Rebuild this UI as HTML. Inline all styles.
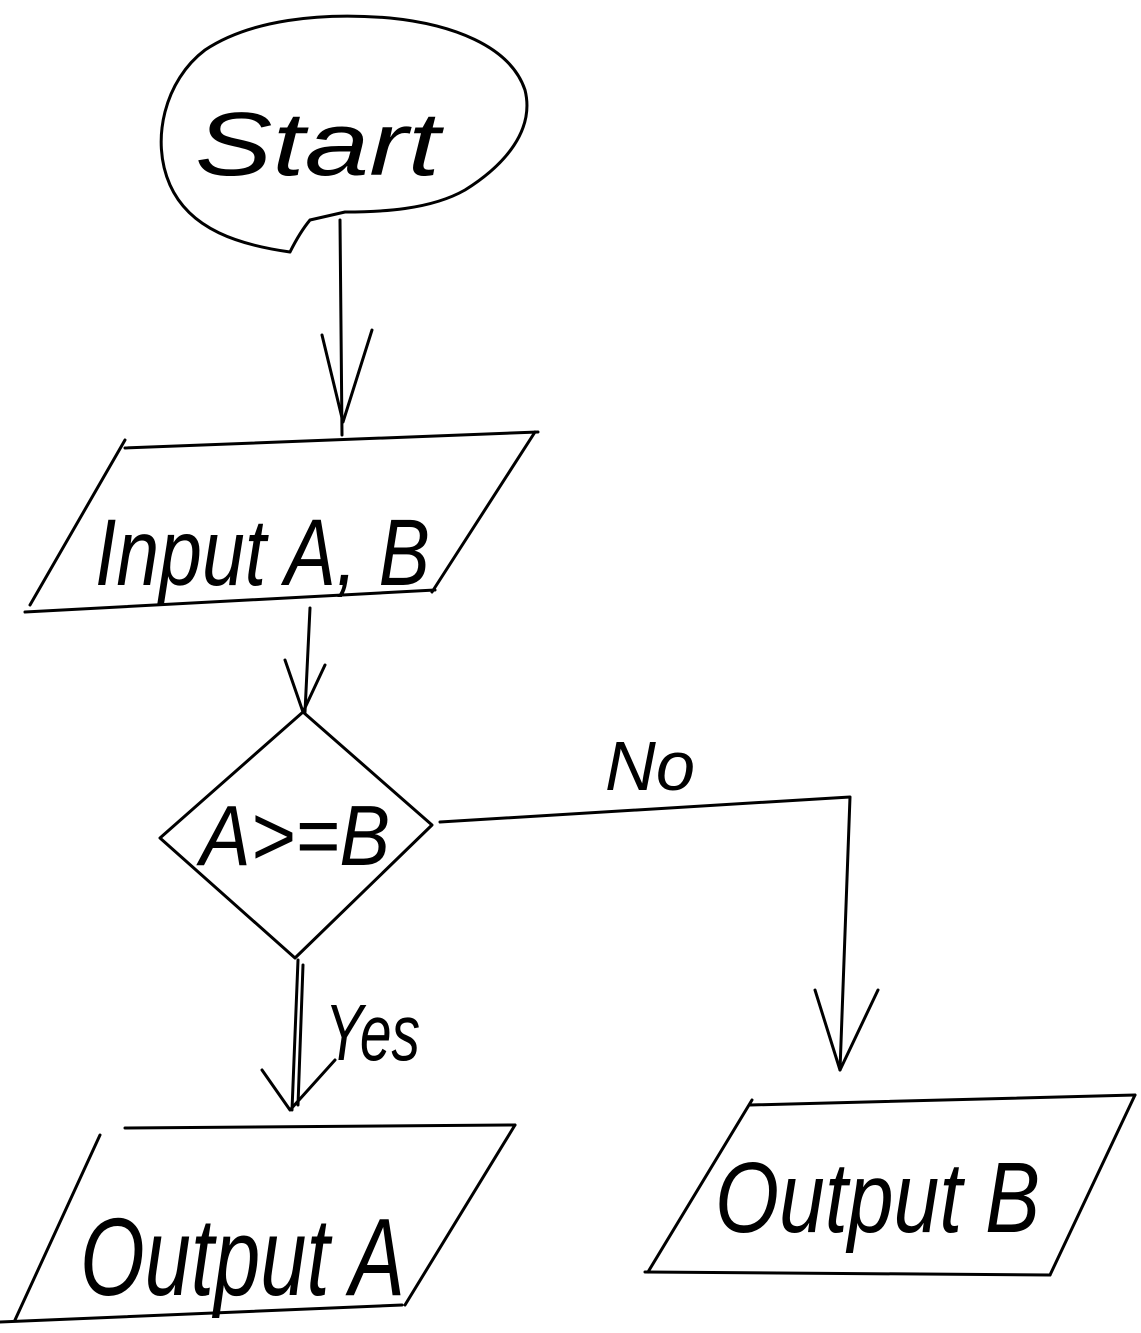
<!DOCTYPE html>
<html><head><meta charset="utf-8"><style>
html,body{margin:0;padding:0;background:#fff;}
svg{display:block}
text{font-family:"Liberation Sans",sans-serif;fill:#000;font-style:italic;}
</style></head><body>
<svg width="1141" height="1333" viewBox="0 0 1141 1333" xmlns="http://www.w3.org/2000/svg">
<g fill="none" stroke="#000" stroke-width="3" stroke-linecap="round" stroke-linejoin="round">
<!-- Start blob -->
<path d="M290,252 C240,245 190,230 170,185 C150,140 165,80 205,50 C250,20 320,12 390,18 C450,24 510,45 525,90 C535,130 505,165 465,190 C430,210 380,212 345,212 L310,220 Q300,232 290,252"/>
<path d="M340,220 L342,435"/>
<path d="M322,335 L343,422 L372,330"/>
<!-- Input -->
<path d="M125,448 L538,432"/>
<path d="M125,440 L30,605"/>
<path d="M25,612 L435,590"/>
<path d="M535,432 L432,592"/>
<path d="M310,608 L305,712"/>
<path d="M285,660 L303,712 L325,665"/>
<!-- Diamond -->
<path d="M303,712 L160,838 L295,958 L432,825 Z"/>
<!-- No -->
<path d="M440,822 L850,797 L840,1070"/>
<path d="M815,990 L840,1070 L878,990"/>
<!-- Yes -->
<path d="M298,960 L292,1110"/>
<path d="M303,965 L298,1105"/>
<path d="M262,1070 L290,1110 L335,1060"/>
<!-- Output A -->
<path d="M125,1128 L515,1125"/>
<path d="M100,1135 L15,1320"/>
<path d="M0,1322 L402,1305"/>
<path d="M515,1125 L405,1305"/>
<!-- Output B -->
<path d="M750,1105 L1135,1095"/>
<path d="M752,1100 L648,1272"/>
<path d="M645,1272 L1050,1275"/>
<path d="M1135,1095 L1050,1275"/>
</g>
<g font-size="80">
<text x="195" y="175" textLength="245" lengthAdjust="spacingAndGlyphs" font-size="90">Start</text>
<text x="95" y="585" textLength="335" lengthAdjust="spacingAndGlyphs" font-size="95">Input A, B</text>
<text x="200" y="865" textLength="190" lengthAdjust="spacingAndGlyphs" font-size="85">A&gt;=B</text>
<text x="605" y="790" textLength="90" lengthAdjust="spacingAndGlyphs" font-size="70">No</text>
<text x="325" y="1060" textLength="95" lengthAdjust="spacingAndGlyphs" font-size="80">Yes</text>
<text x="80" y="1295" textLength="325" lengthAdjust="spacingAndGlyphs" font-size="110">Output A</text>
<text x="715" y="1232" textLength="325" lengthAdjust="spacingAndGlyphs" font-size="100">Output B</text>
</g>
</svg>
</body></html>
